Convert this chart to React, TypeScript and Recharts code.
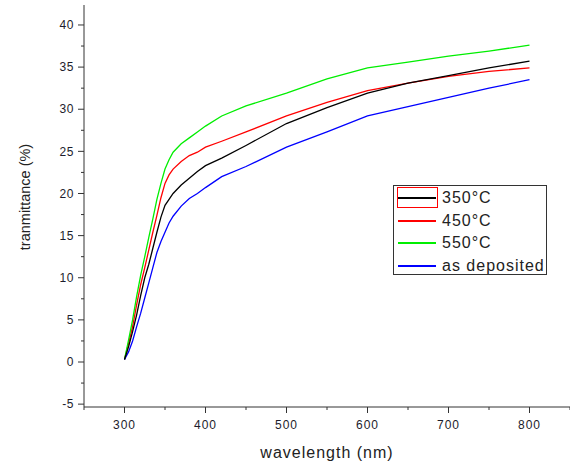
import { LineChart, Line, XAxis, YAxis } from 'recharts';

const wavelength = [300, 305, 310, 315, 320, 325, 330, 335, 340, 345, 350, 355, 360, 370, 380, 390, 400, 420, 450, 500, 550, 600, 650, 700, 750, 800];
const t350 = [0.3, 1.8, 3.6, 5.6, 7.9, 10.0, 11.6, 13.5, 15.4, 17.2, 18.6, 19.3, 20.0, 21.0, 21.8, 22.6, 23.3, 24.2, 25.7, 28.3, 30.2, 31.9, 33.1, 34.0, 34.9, 35.7];
const t450 = [0.3, 2.2, 4.2, 6.8, 9.2, 11.2, 13.3, 15.4, 17.4, 19.5, 21.2, 22.2, 22.9, 23.8, 24.5, 24.9, 25.5, 26.2, 27.3, 29.2, 30.8, 32.2, 33.1, 33.9, 34.5, 34.9];
const t550 = [0.3, 2.6, 5.0, 7.8, 10.3, 12.5, 14.8, 17.0, 19.3, 21.2, 22.9, 24.0, 24.9, 25.9, 26.6, 27.3, 28.0, 29.2, 30.4, 31.9, 33.6, 34.9, 35.6, 36.3, 36.9, 37.6];
const tDeposited = [0.3, 1.2, 2.5, 4.2, 5.8, 7.6, 9.4, 11.2, 13.0, 14.3, 15.4, 16.5, 17.3, 18.5, 19.4, 20.0, 20.7, 22.0, 23.2, 25.5, 27.3, 29.2, 30.3, 31.4, 32.5, 33.5];

const xTicks = [250, 300, 350, 400, 450, 500, 550, 600, 650, 700, 750, 800, 850];
const yTicks = [-5, -2.5, 0, 2.5, 5, 7.5, 10, 12.5, 15, 17.5, 20, 22.5, 25, 27.5, 30, 32.5, 35, 37.5, 40];

const legendItems = [
  { name: '350°C', color: '#000000', boxed: true },
  { name: '450°C', color: '#ff0000' },
  { name: '550°C', color: '#00ee00' },
  { name: 'as deposited', color: '#0000ff' },
];

const data = wavelength.map((w, i) => ({
  w,
  a350: t350[i],
  a450: t450[i],
  a550: t550[i],
  dep: tDeposited[i],
}));

const tickColor = '#1c1c2c';
const axisColor = '#333333';
const font = "Arial, 'Liberation Sans'";

const XTick = ({ x, y, payload }: any) => {
  const major = payload.value % 100 === 0;
  return (
    <g>
      <line x1={x} x2={x} y1={y} y2={y + (major ? 6 : 3)} stroke={axisColor} />
      {major && payload.value <= 800 && (
        <text x={x} y={y + 18} dy="0.35em" textAnchor="middle" fontSize={12} letterSpacing={1} fill={tickColor} fontFamily={font}>
          {payload.value}
        </text>
      )}
    </g>
  );
};

const YTick = ({ x, y, payload }: any) => {
  const major = payload.value % 5 === 0;
  return (
    <g>
      <line x1={x} x2={x - (major ? 6 : 3)} y1={y} y2={y} stroke={axisColor} />
      {major && (
        <text x={x - 10} y={y} dy="0.35em" textAnchor="end" fontSize={12} letterSpacing={0.6} fill={tickColor} fontFamily={font}>
          {payload.value}
        </text>
      )}
    </g>
  );
};

// legend as plain html laid over the plot
const LegendBox = () => (
  <div style={{ position: 'absolute', left: 393, top: 185, width: 152, height: 88, border: '1px solid #333', background: '#fff', fontFamily: font }}>
    {legendItems.map((it, i) => {
      const cy = 12 + Math.round(i * 22.5);
      return (
        <div key={it.name}>
          <div style={{ position: 'absolute', left: 4, top: cy - 1, width: 38, height: 2, background: it.color }} />
          {it.boxed && (
            <div style={{ position: 'absolute', left: 3, top: cy - 11, width: 41, height: 21, border: '1px solid #ff0000', boxSizing: 'border-box' }} />
          )}
          <div style={{ position: 'absolute', left: 48, top: cy - 10, height: 20, lineHeight: '20px', fontSize: 16, letterSpacing: 1, color: '#222', whiteSpace: 'nowrap' }}>
            {it.name}
          </div>
        </div>
      );
    })}
  </div>
);

export default function App() {
  return (
    <div style={{ position: 'fixed', left: 0, top: 0, width: 570, height: 465, background: '#fff' }}>
      <LineChart width={570} height={465} data={data} margin={{ top: 5, right: 0, left: 0, bottom: 0 }}>
        <XAxis
          dataKey="w"
          type="number"
          domain={[250, 850]}
          ticks={xTicks}
          interval={0}
          tickSize={0}
          tickMargin={0}
          height={58}
          tick={<XTick />}
          tickLine={false}
          axisLine={{ stroke: axisColor }}
        />
        <YAxis
          type="number"
          domain={[-5.34, 42.37]}
          allowDataOverflow
          ticks={yTicks}
          interval={0}
          tickSize={0}
          tickMargin={0}
          width={84}
          tick={<YTick />}
          tickLine={false}
          axisLine={{ stroke: axisColor }}
        />
        <Line dataKey="a450" name="450°C" stroke="#ff0000" strokeWidth={1.3} dot={false} isAnimationActive={false} />
        <Line dataKey="a550" name="550°C" stroke="#00ee00" strokeWidth={1.3} dot={false} isAnimationActive={false} />
        <Line dataKey="dep" name="as deposited" stroke="#0000ff" strokeWidth={1.3} dot={false} isAnimationActive={false} />
        <Line dataKey="a350" name="350°C" stroke="#000000" strokeWidth={1.3} dot={false} isAnimationActive={false} />
      </LineChart>
      <LegendBox />
      <div style={{ position: 'absolute', left: 327, top: 453, transform: 'translate(-50%, -50%)', fontFamily: font, fontSize: 16, letterSpacing: 1, color: '#222', whiteSpace: 'nowrap' }}>
        wavelength (nm)
      </div>
      <div style={{ position: 'absolute', left: 25, top: 197, transform: 'translate(-50%, -50%) rotate(-90deg)', fontFamily: font, fontSize: 14.5, color: '#222', whiteSpace: 'nowrap' }}>
        tranmittance (%)
      </div>
    </div>
  );
}
